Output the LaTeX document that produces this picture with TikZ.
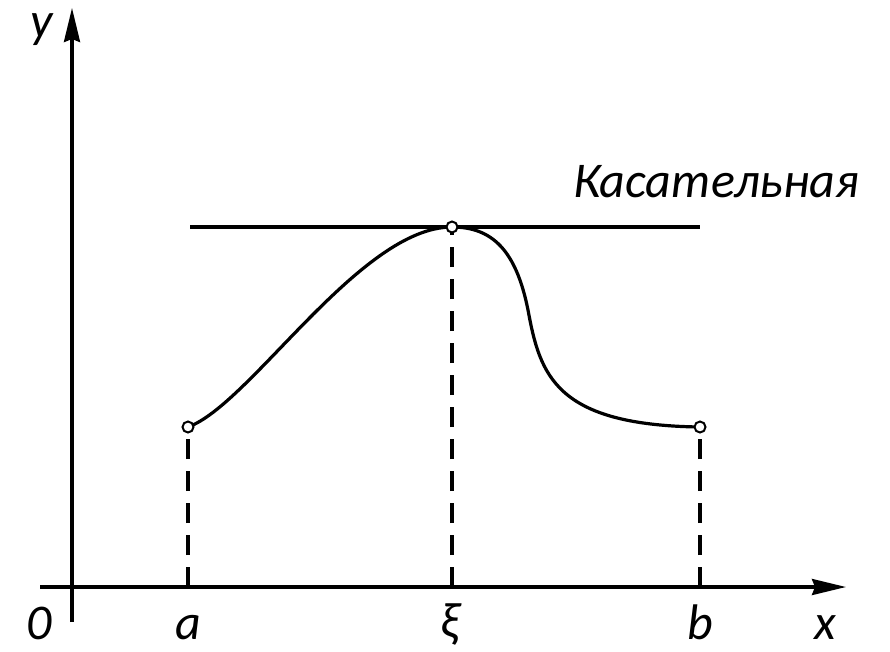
\documentclass[tikz,border=0pt]{standalone}
\usepackage{fontspec}
\setmainfont{Carlito}
\usetikzlibrary{arrows.meta}
\begin{document}
\begin{tikzpicture}[x=1pt,y=-1pt,
  axis/.style={line width=3.2pt,-{Stealth[length=34pt,width=16pt,inset=3pt]}},
  curve/.style={line width=3.2pt},
  drop/.style={line width=3.4pt,dash pattern=on 20pt off 12pt},
  lbl/.style={font=\fontsize{50}{56}\selectfont\itshape,anchor=base,inner sep=0pt},
  pt/.style={circle,draw,line width=2pt,fill=white,minimum size=11pt,inner sep=0pt}]
\useasboundingbox (0,0) rectangle (890,651);
% axes
\coordinate (xs) at (40,587);
\coordinate (xe) at (846,587);
\coordinate (ys) at (72,622);
\coordinate (ye) at (72,8);
\draw[axis] (xs) -- (xe);
\draw[axis] (ys) -- (ye);
% feet on axis
\coordinate (fa) at (188,587);
\coordinate (fx) at (452,587);
\coordinate (fb) at (700,587);
% points
\coordinate (A) at (188,427);
\coordinate (P) at (452,227);
\coordinate (B) at (700,427);
\coordinate (tl) at (190,227);
\coordinate (tr) at (700,227);
% tangent
\draw[line width=3.2pt] (tl) -- (tr);
% dashed drops
\draw[drop] (fa) -- (A);
\draw[drop] (fx) -- (P);
\draw[drop] (fb) -- (B);
% curve
\draw[curve] (A) .. controls (250,405) and (360,227) .. (P)
  .. controls (492,227) and (516,250) .. (528,310)
  .. controls (540,375) and (555,425) .. (B);
% endpoint circles
\node[pt] (cA) at (A) {};
\node[pt] (cP) at (P) {};
\node[pt] (cB) at (B) {};
% labels
\node[lbl] (ly) at (42,37) {y};
\node[lbl] (l0) at (39,639) {0};
\node[lbl] (la) at (188,639) {a};
\node[lbl] (lxi) at (450,637) {ξ};
\node[lbl] (lb) at (700,639) {b};
\node[lbl] (lx) at (825,639) {x};
\node[lbl,anchor=base west] (tan) at (573,197) {Касательная};
\end{tikzpicture}
\end{document}
